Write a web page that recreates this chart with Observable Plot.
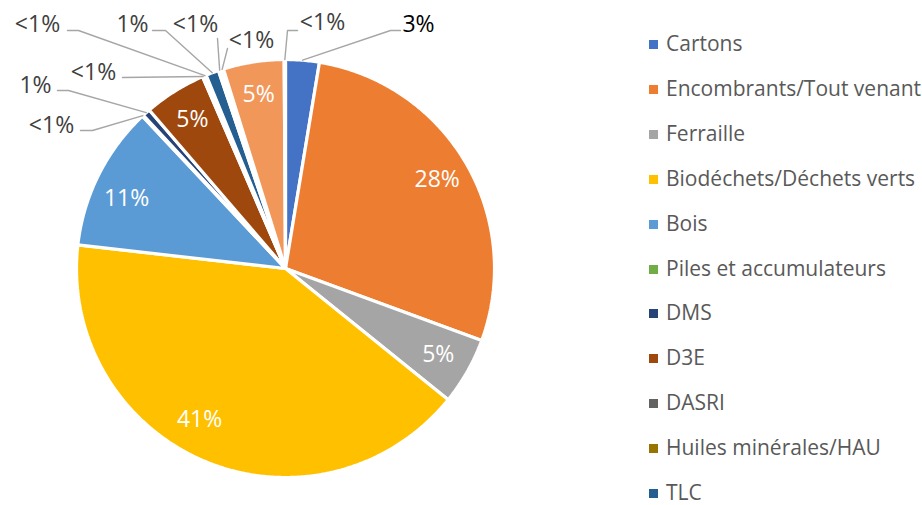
<!DOCTYPE html>
<html>
<head>
<meta charset="utf-8">
<script src="https://cdn.jsdelivr.net/npm/d3@7"></script>
<script src="https://cdn.jsdelivr.net/npm/@observablehq/plot@0.6"></script>
<style>
  body { margin: 0; background: #fff; font-family: "Open Sans", sans-serif; }
  #wrap { position: relative; width: 922px; height: 505px; overflow: hidden; }
  #legend .item { position: absolute; left: 649px; height: 28px; line-height: 28px; white-space: nowrap; font-size: 21px; color: #595959; }
  #legend .sw { position: absolute; left: 0; top: 10px; width: 9px; height: 9px; }
  #legend .tx { position: absolute; left: 17px; top: -1px; }
</style>
</head>
<body>
<div id="wrap"><div id="chart"></div><div id="legend"></div></div>
<script>
// ---- data (clockwise from 12 o'clock) ----
const categories = [
  "Cartons", "Encombrants/Tout venant", "Ferraille", "Biodéchets/Déchets verts", "Bois",
  "Piles et accumulateurs", "DMS", "D3E", "DASRI", "Huiles minérales/HAU", "TLC",
  "Pneus", "Plâtre", "Gravats", "Amiante"
];
const values = [2.6, 28.0, 5.2, 41.0, 11.2, 0.1, 0.6, 4.8, 0.1, 0.2, 1.0, 0.2, 0.2, 4.7, 0.1];
const valueLabels = ["3%", "28%", "5%", "41%", "11%", "<1%", "1%", "5%", "<1%", "<1%", "1%", "<1%", "<1%", "5%", "<1%"];
const legendCategories = categories.slice(0, 11);

// ---- styles ----
const colors = [
  "#4472C4", "#ED7D31", "#A5A5A5", "#FFC000", "#5B9BD5", "#70AD47", "#264478", "#9E480E",
  "#636363", "#997300", "#255E91", "#43682B", "#698ED0", "#F1975A", "#B7B7B7"
];
const insideLabels = new Set(["Encombrants/Tout venant", "Ferraille", "Biodéchets/Déchets verts", "Bois", "D3E", "Gravats"]);
// label radius / angle tweaks (layout only)
const insideTweak = {
  "Biodéchets/Déchets verts": {r: 0.83, da: 7},
  "Bois": {r: 0.83, da: -3},
};
// outside label layout, in pixels of the reference frame (pie centre 285,268, radius 209)
const CX = 285, CY = 268, R = 209;
const outsideLayout = {
  "Amiante":               {text: [322, 22], color: "#404040", path: [[287, 30], [297, 30]]},
  "Cartons":               {text: [418, 24], color: "#000000", path: [[390, 30], [400, 30]]},
  "Plâtre":                {text: [251, 40], color: "#404040", path: [[227, 48]]},
  "Pneus":                 {text: [195, 24], color: "#404040", path: [[217, 38]]},
  "TLC":                   {text: [132, 24], color: "#404040", path: [[165, 30], [152, 30]]},
  "Huiles minérales/HAU":  {text: [37, 24],  color: "#404040", path: [[78, 30], [67, 30]]},
  "DASRI":                 {text: [93, 72],  color: "#404040", path: [[122, 77]]},
  "DMS":                   {text: [35, 85],  color: "#404040", path: [[68, 90], [57, 90]]},
  "Piles et accumulateurs":{text: [51, 125], color: "#404040", path: [[92, 130], [80, 130]]},
};
const ux = px => (px - CX) / R;
const uy = py => (CY - py) / R;

// ---- geometry from data ----
const total = d3.sum(values);
let acc = 0;
const slices = categories.map((name, i) => {
  const a0 = acc / total * 2 * Math.PI;
  acc += values[i];
  const a1 = acc / total * 2 * Math.PI;
  return {name, value: values[i], label: valueLabels[i], a0, a1, mid: (a0 + a1) / 2};
});
const features = slices.map(s => {
  const n = Math.max(2, Math.ceil((s.a1 - s.a0) / (Math.PI / 360)));
  const ring = [[0, 0]];
  for (let k = 0; k <= n; k++) {
    const a = s.a0 + (s.a1 - s.a0) * k / n;
    ring.push([Math.sin(a), Math.cos(a)]);
  }
  ring.push([0, 0]);
  return {type: "Feature", properties: {name: s.name}, geometry: {type: "Polygon", coordinates: [ring]}};
});

const inside = slices.filter(s => insideLabels.has(s.name)).map(s => {
  const t = insideTweak[s.name] || {r: 0.84, da: 0};
  const a = s.mid + t.da * Math.PI / 180;
  return {x: t.r * Math.sin(a), y: t.r * Math.cos(a), label: s.label};
});
const outside = slices.filter(s => outsideLayout[s.name]).map(s => {
  const L = outsideLayout[s.name];
  return {x: ux(L.text[0]), y: uy(L.text[1]), label: s.label, color: L.color};
});
const leaders = [];
slices.filter(s => outsideLayout[s.name]).forEach(s => {
  const L = outsideLayout[s.name];
  leaders.push({id: s.name, x: Math.sin(s.mid), y: Math.cos(s.mid)});
  L.path.forEach(p => leaders.push({id: s.name, x: ux(p[0]), y: uy(p[1])}));
});

const chart = Plot.plot({
  width: 922,
  height: 505,
  marginLeft: CX - R,
  marginRight: 922 - (CX + R),
  marginTop: CY - R,
  marginBottom: 505 - (CY + R),
  projection: {type: "reflect-y", domain: {type: "MultiPoint", coordinates: [[-1, -1], [1, 1]]}, inset: 0, clip: false},
  color: {domain: categories, range: colors},
  style: {fontFamily: "'Open Sans', sans-serif", background: "white"},
  marks: [
    Plot.geo(features, {fill: d => d.properties.name, stroke: "white", strokeWidth: 3.2, strokeLinejoin: "miter"}),
    Plot.line(leaders, {x: "x", y: "y", z: "id", stroke: "#A6A6A6", strokeWidth: 1.4, curve: "linear"}),
    Plot.text(inside, {x: "x", y: "y", text: "label", fill: "white", fontSize: 23}),
    Plot.text(outside, {x: "x", y: "y", text: "label", fill: "color", fontSize: 23})
  ]
});
document.getElementById("chart").appendChild(chart);

// ---- legend ----
const legend = document.getElementById("legend");
const rowCenters = legendCategories.map((c, i) => 44 + i * 44.9);
legendCategories.forEach((c, i) => {
  const div = document.createElement("div");
  div.className = "item";
  div.style.top = (rowCenters[i] - 14) + "px";
  const sw = document.createElement("span");
  sw.className = "sw";
  sw.style.background = colors[categories.indexOf(c)];
  const tx = document.createElement("span");
  tx.className = "tx";
  tx.textContent = c;
  div.appendChild(sw); div.appendChild(tx);
  legend.appendChild(div);
});
</script>
</body>
</html>
